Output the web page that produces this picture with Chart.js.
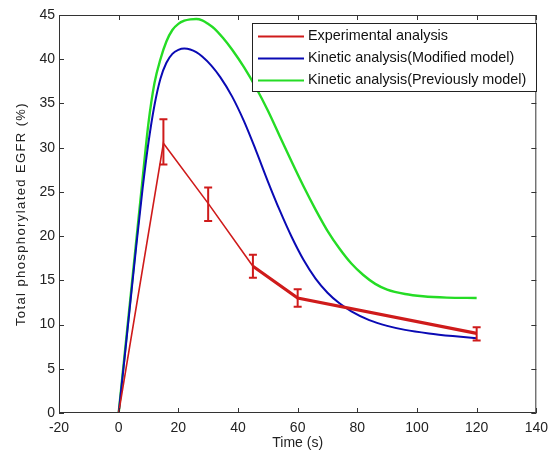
<!DOCTYPE html>
<html lang='en'>

<head>
    <meta charset='UTF-8'>
    <title>Total phosphorylated EGFR</title>
    <script src="https://cdn.jsdelivr.net/npm/chart.js"></script>
    <style>
        body { margin: 0; background: #fff; }
        #chart_sect { width: 555px; height: 457px; }
    </style>
</head>

<body>
    <div id="chart_sect">
        <canvas id="myChart"></canvas>
    </div>

    <script>
        // experimental points (time s, %), with error bar ends
        const exp_t = [0, 15, 30, 45, 60, 120];
        const exp_val = [0, 30.5, 23.7, 16.6, 13.0, 9.0];
        const exp_low = [null, 28.1, 21.7, 15.3, 12.0, 8.2];
        const exp_high = [null, 33.2, 25.5, 17.9, 14.0, 9.7];

        // kinetic analysis, modified model (blue)
        const mod_t = [0, 2, 4, 6, 8, 10, 12, 14, 16, 18, 20, 22, 24, 26, 28, 31, 34, 38, 42, 46, 50, 54, 58, 62, 66, 70, 74, 78, 84, 90, 96, 104, 112, 120];
        const mod_val = [0, 6.3, 12.8, 19.2, 25.3, 30.6, 34.8, 37.8, 39.6, 40.6, 41.05, 41.2, 41.1, 40.8, 40.3, 39.3, 38.0, 35.8, 33.0, 29.7, 26.2, 22.9, 19.9, 17.3, 15.2, 13.6, 12.4, 11.5, 10.5, 9.85, 9.4, 9.0, 8.7, 8.45];

        // kinetic analysis, previously model (green)
        const prev_t = [0, 2, 4, 6, 8, 10, 12, 14, 16, 18, 20, 22, 24, 26, 28, 30, 32, 35, 38, 42, 46, 50, 54, 58, 62, 66, 70, 74, 78, 82, 86, 90, 96, 102, 110, 120];
        const prev_val = [0, 6.6, 13.2, 19.8, 26.4, 32.8, 37.3, 40.0, 42.0, 43.3, 44.0, 44.35, 44.5, 44.55, 44.4, 44.0, 43.5, 42.4, 41.1, 39.1, 36.8, 34.2, 31.3, 28.4, 25.6, 23.0, 20.6, 18.6, 16.9, 15.6, 14.6, 13.95, 13.45, 13.2, 13.05, 13.0];

        const x_ticks = [-20, 0, 20, 40, 60, 80, 100, 120, 140];
        const y_ticks = [0, 5, 10, 15, 20, 25, 30, 35, 40, 45];
        const legend_labels = ['Experimental analysis', 'Kinetic analysis(Modified model)', 'Kinetic analysis(Previously model)'];
        const y_title = 'Total phosphorylated EGFR (%)';

        const red = '#cf1b1b';
        const blue = '#0a0ab4';
        const green = '#25dc25';
        const axis_col = '#333';
        const font_family = '"Liberation Sans", Arial, sans-serif';

        const to_xy = (xs, ys) => xs.map((v, i) => ({ x: v, y: ys[i] }));

        const frame_plugin = {
            id: 'frame',
            afterDatasetsDraw(chart) {
                const { ctx, chartArea: a, scales: { x, y } } = chart;
                ctx.save();
                // error bars
                ctx.strokeStyle = red;
                ctx.lineWidth = 2;
                exp_t.forEach((t, i) => {
                    if (exp_low[i] == null) return;
                    const px = x.getPixelForValue(t);
                    const y1 = y.getPixelForValue(exp_low[i]);
                    const y2 = y.getPixelForValue(exp_high[i]);
                    ctx.beginPath();
                    ctx.moveTo(px, y1); ctx.lineTo(px, y2);
                    ctx.moveTo(px - 4, y1); ctx.lineTo(px + 4, y1);
                    ctx.moveTo(px - 4, y2); ctx.lineTo(px + 4, y2);
                    ctx.stroke();
                });

                // box + inward ticks
                ctx.strokeStyle = axis_col;
                ctx.lineWidth = 1;
                ctx.beginPath();
                ctx.rect(a.left + 0.5, a.top + 0.5, a.width - 1, a.height - 1);
                x_ticks.forEach(v => {
                    const px = Math.round(x.getPixelForValue(v)) + 0.5;
                    ctx.moveTo(px, a.bottom); ctx.lineTo(px, a.bottom - 5);
                    ctx.moveTo(px, a.top); ctx.lineTo(px, a.top + 5);
                });
                y_ticks.forEach(v => {
                    const py = Math.round(y.getPixelForValue(v)) + 0.5;
                    ctx.moveTo(a.left, py); ctx.lineTo(a.left + 5, py);
                    ctx.moveTo(a.right, py); ctx.lineTo(a.right - 5, py);
                });
                ctx.stroke();

                // y axis title, drawn by hand so it can be spaced out like the original
                ctx.save();
                ctx.translate(21, (a.top + a.bottom) / 2);
                ctx.rotate(-Math.PI / 2);
                ctx.font = '13px ' + font_family;
                ctx.letterSpacing = '1.4px';
                ctx.fillStyle = '#222';
                ctx.textAlign = 'center';
                ctx.textBaseline = 'middle';
                ctx.fillText(y_title, 0, 0);
                ctx.restore();

                // legend box (top right, inside the axes)
                const lx = 252, ly = 23, lw = 285, lh = 69;
                ctx.fillStyle = '#fff';
                ctx.fillRect(lx, ly, lw, lh);
                ctx.strokeStyle = '#222';
                ctx.strokeRect(lx + 0.5, ly + 0.5, lw - 1, lh - 1);
                ctx.font = '14.4px ' + font_family;
                ctx.textBaseline = 'middle';
                ctx.textAlign = 'left';
                chart.data.datasets.forEach((ds, i) => {
                    const ry = ly + 13.5 + i * 22;
                    ctx.strokeStyle = ds.borderColor;
                    ctx.lineWidth = 2;
                    ctx.beginPath();
                    ctx.moveTo(lx + 6, ry); ctx.lineTo(lx + 52, ry);
                    ctx.stroke();
                    ctx.fillStyle = '#111';
                    ctx.fillText(ds.label, lx + 56, ry);
                });
                ctx.restore();
            }
        };

        new Chart(document.getElementById('myChart'), {
            type: 'line',
            data: {
                datasets: [{
                    label: legend_labels[0],
                    data: to_xy(exp_t, exp_val),
                    borderColor: red,
                    borderWidth: 1.6,
                    pointRadius: 0,
                    segment: { borderWidth: c => c.p0DataIndex >= 3 ? 3.2 : 1.6 }
                }, {
                    label: legend_labels[1],
                    data: to_xy(mod_t, mod_val),
                    borderColor: blue,
                    borderWidth: 2,
                    pointRadius: 0,
                    cubicInterpolationMode: 'monotone'
                }, {
                    label: legend_labels[2],
                    data: to_xy(prev_t, prev_val),
                    borderColor: green,
                    borderWidth: 2.4,
                    pointRadius: 0,
                    cubicInterpolationMode: 'monotone'
                }]
            },
            options: {
                responsive: true,
                maintainAspectRatio: false,
                animation: false,
                events: [],
                layout: { padding: { top: 15, right: 13, left: 0, bottom: 0 } },
                plugins: { legend: { display: false }, tooltip: { enabled: false } },
                scales: {
                    x: {
                        type: 'linear',
                        min: -20,
                        max: 140,
                        afterBuildTicks: s => { s.ticks = x_ticks.map(v => ({ value: v })); },
                        afterFit: s => { s.height = 44; },
                        grid: { display: false, drawTicks: false },
                        border: { display: false },
                        ticks: { color: '#222', padding: 7, maxRotation: 0, font: { size: 14, family: font_family } },
                        title: { display: true, text: 'Time (s)', color: '#222', padding: { top: 0, bottom: 5 }, font: { size: 14, family: font_family } }
                    },
                    y: {
                        min: 0,
                        max: 45,
                        afterBuildTicks: s => { s.ticks = y_ticks.map(v => ({ value: v })); },
                        afterFit: s => { s.width = 59; },
                        grid: { display: false, drawTicks: false },
                        border: { display: false },
                        ticks: { color: '#222', padding: 4, font: { size: 14, family: font_family } }
                    }
                }
            },
            plugins: [frame_plugin]
        });
    </script>

</body>

</html>
